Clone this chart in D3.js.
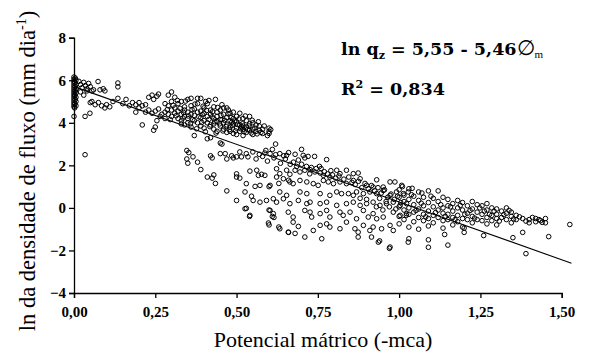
<!DOCTYPE html>
<html>
<head>
<meta charset="utf-8">
<style>
  body { margin: 0; background: #fff; }
  svg text { font-family: "Liberation Serif", "Times New Roman", serif; }
  svg text.eq { font-family: "DejaVu Serif", serif; }
</style>
</head>
<body>
<svg width="594" height="354"></svg>
<script src="https://cdn.jsdelivr.net/npm/d3@7"></script>
<script>

// Tick labels
var xTicks = [0, 0.25, 0.5, 0.75, 1.0, 1.25, 1.5];
var yTicks = [-4, -2, 0, 2, 4, 6, 8];

// Fitted line as drawn (end points)
var lineX = [0, 1.53];
var lineY = [5.7, -2.6];

// Observations: [potencial matrico, ln q]
// stack at saturation
var pointsZero = [
  [0,6.15],[0.004,6.1],[0,6.05],[0.006,6.0],[0,5.95],[0.003,5.9],[0,5.85],[0.006,5.8],
  [0,5.75],[0.004,5.7],[0,5.65],[0.007,5.6],[0,5.55],[0.004,5.5],[0,5.45],[0.006,5.4],
  [0,5.35],[0.003,5.3],[0,5.25],[0.006,5.2],[0,5.15],[0.004,5.1],[0,5.05],[0.006,5.0],
  [0,4.95],[0.003,4.9],[0,4.85],[0.006,4.8],[0,4.75],[0.002,4.7],[0,4.3]
];

// near-saturated points up to 0.28
var pointsWet = [
  [0.015,5.95],[0.02,5.8],[0.025,5.65],[0.03,5.9],[0.035,5.75],[0.04,5.6],[0.045,5.85],
  [0.05,5.7],[0.02,5.45],[0.03,5.3],[0.04,5.5],[0.055,5.5],[0.06,5.55],[0.074,5.94],
  [0.08,5.55],[0.09,5.6],[0.095,5.5],[0.135,5.87],[0.135,5.69],[0.05,4.95],[0.055,5.0],
  [0.065,4.85],[0.075,4.95],[0.085,4.8],[0.095,4.7],[0.1,4.85],[0.11,4.75],[0.034,4.3],
  [0.049,4.45],[0.12,5.0],[0.135,5.15],[0.15,4.9],[0.16,5.1],[0.17,4.8],[0.18,4.95],
  [0.19,4.85],[0.2,4.95],[0.21,4.8],[0.2,4.7],[0.22,4.85],[0.19,4.5],[0.22,4.5],
  [0.21,3.9],[0.23,5.2],[0.24,5.3],[0.245,5.1],[0.255,5.25],[0.26,5.35],[0.245,3.65],
  [0.25,3.8],[0.255,4.1],[0.23,4.6],[0.24,4.45],[0.25,4.55],[0.26,4.65],[0.27,4.4],
  [0.265,4.3],[0.034,2.5]
];

// dense cluster 0.28 - 0.62
var pointsCluster = [
  [0.28,4.9],[0.28,4.5],[0.28,4.2],[0.29,5.3],[0.29,4.8],[0.29,4.4],
  [0.30,5.45],[0.30,5.0],[0.30,4.6],[0.30,4.3],[0.31,5.2],[0.31,4.7],[0.31,4.45],
  [0.32,4.9],[0.32,4.55],[0.32,4.2],[0.33,5.0],[0.33,4.4],[0.33,4.1],[0.33,3.95],
  [0.34,4.75],[0.34,4.6],[0.34,4.3],[0.34,3.9],[0.35,5.1],[0.35,4.5],[0.35,4.2],[0.35,4.0],
  [0.36,5.15],[0.36,4.8],[0.36,4.4],[0.36,3.8],[0.37,4.65],[0.37,4.35],[0.37,4.1],[0.37,3.4],
  [0.38,5.15],[0.38,4.9],[0.38,4.5],[0.38,4.0],[0.39,5.15],[0.39,4.55],[0.39,4.25],[0.39,3.85],
  [0.40,4.7],[0.40,4.45],[0.40,4.1],[0.40,3.75],[0.41,4.9],[0.41,4.3],[0.41,4.0],[0.41,3.25],
  [0.42,4.6],[0.42,4.4],[0.42,3.9],[0.42,3.3],[0.43,4.75],[0.43,4.2],[0.43,3.95],[0.43,3.7],
  [0.44,4.5],[0.44,4.3],[0.44,4.05],[0.44,3.6],[0.45,4.6],[0.45,4.15],[0.45,3.85],[0.45,3.05],
  [0.455,3.0],[0.46,4.7],[0.46,4.4],[0.46,4.0],[0.46,3.7],[0.47,4.7],[0.47,4.25],[0.47,3.9],
  [0.47,3.55],[0.48,4.45],[0.48,4.1],[0.48,3.8],[0.48,3.6],[0.49,4.5],[0.49,4.2],[0.49,3.95],
  [0.49,3.5],[0.50,4.3],[0.50,4.05],[0.50,3.75],[0.50,3.45],[0.51,4.45],[0.51,3.9],[0.51,3.6],
  [0.52,4.2],[0.52,3.85],[0.52,3.7],[0.52,3.4],[0.53,4.1],[0.53,3.8],[0.53,3.55],
  [0.54,4.3],[0.54,3.95],[0.54,3.65],[0.55,4.0],[0.55,3.7],[0.55,3.45],[0.56,3.9],[0.56,3.6],
  [0.57,3.85],[0.57,3.65],[0.58,3.7],[0.58,3.5],[0.60,3.75],[0.60,3.6],[0.60,3.5],[0.62,3.0],
  [0.287,4.62],[0.296,4.15],[0.305,4.82],[0.314,4.33],[0.318,5.05],[0.326,4.68],[0.337,4.48],
  [0.343,5.02],[0.352,4.32],[0.358,3.95],[0.363,4.62],[0.372,4.88],[0.377,3.72],[0.384,4.28],
  [0.393,4.02],[0.397,4.78],[0.404,3.58],[0.408,4.58],[0.415,4.16],[0.418,3.82],[0.426,4.52],
  [0.433,4.05],[0.437,3.52],[0.442,4.72],[0.448,3.95],[0.452,4.35],[0.458,3.62],[0.463,4.12],
  [0.468,3.82],[0.474,4.42],[0.478,3.68],[0.483,4.25],[0.487,3.88],[0.494,4.08],[0.497,3.62],
  [0.503,3.92],[0.507,4.18],[0.513,3.72],[0.518,3.95],[0.523,3.58],[0.527,4.32],[0.534,3.68],
  [0.538,3.85],[0.545,3.52],[0.548,4.12],[0.556,3.75],[0.563,3.48],[0.567,4.05],[0.575,3.55],
  [0.585,3.85],[0.595,3.4],[0.605,3.68],[0.335,4.22],[0.365,4.15],[0.395,4.38],[0.425,4.28],
  [0.455,4.15],[0.485,4.02],[0.515,3.82],[0.405,5.0],[0.415,5.05],[0.435,5.1],[0.455,4.85],
  [0.475,4.6]
];

// scattered branch and band 0.35 - 1.03
var pointsMiddle = [
  [0.347,2.7],[0.353,2.6],[0.347,2.3],[0.35,2.1],[0.366,2.4],[0.38,2.15],[0.39,1.8],
  [0.41,1.45],[0.425,1.4],[0.43,1.55],[0.435,1.15],[0.42,2.45],[0.425,2.35],[0.45,2.55],
  [0.465,2.55],[0.47,2.3],[0.485,2.45],[0.49,2.35],[0.5,2.4],[0.515,2.4],[0.47,0.8],
  [0.5,1.45],[0.51,1.4],[0.5,1.6],[0.5,0.35],[0.53,-0.02],[0.54,-0.4],
  [0.51,2.63],[0.53,2.55],[0.55,2.63],[0.57,2.52],[0.587,2.58],[0.603,2.55],[0.633,2.55],
  [0.654,2.47],[0.68,2.52],[0.705,2.47],[0.72,2.42],[0.74,2.42],[0.777,2.27],[0.535,2.4],
  [0.59,2.7],[0.61,2.75],[0.62,2.5],[0.645,2.45],[0.66,2.6],[0.7,2.75],[0.69,2.25],[0.71,2.35],
  [0.541,1.73],[0.562,1.77],[0.567,1.53],[0.577,1.58],[0.587,1.53],[0.623,1.84],[0.633,1.61],
  [0.654,1.77],[0.664,1.58],[0.68,1.77],[0.695,1.69],[0.71,1.77],[0.726,1.8],[0.741,1.69],
  [0.757,1.64],[0.767,1.53],[0.787,1.45],[0.808,1.77],[0.818,1.61],[0.838,1.77],[0.859,1.61],
  [0.874,1.64],[0.73,1.9],[0.76,1.85],[0.79,1.75],
  [0.53,1.14],[0.557,1.01],[0.572,1.06],[0.603,1.06],[0.623,1.45],[0.644,1.37],[0.664,1.22],
  [0.674,1.14],[0.695,1.29],[0.716,1.22],[0.736,1.14],[0.751,1.06],[0.767,1.29],[0.782,1.22],
  [0.798,1.14],[0.818,1.22],[0.838,1.14],[0.859,1.29],[0.88,1.37],[0.9,1.06],[0.92,0.98],
  [0.931,1.32],[0.951,0.98],[0.972,1.22],[0.987,1.22],[1.008,1.06],
  [0.526,0.75],[0.633,0.75],[0.654,0.59],[0.695,0.75],[0.716,0.67],[0.757,0.67],[0.787,0.59],
  [0.808,0.75],[0.823,0.67],[0.844,0.67],[0.859,0.59],[0.869,0.75],[0.89,0.67],[0.91,0.75],
  [0.931,0.67],[0.951,0.82],[0.972,0.59],[0.992,0.75],[1.013,0.67],[1.028,0.75],
  [0.546,0.55],[0.572,0.27],[0.592,0.35],[0.551,0.35],[0.613,0.43],[0.623,0.27],[0.644,0.43],
  [0.664,0.2],[0.69,0.35],[0.716,0.2],[0.726,0.27],[0.757,0.2],[0.777,0.27],[0.808,0.12],
  [0.838,0.2],[0.859,0.27],[0.88,0.12],[0.9,0.2],[0.92,0.27],[0.941,0.12],[0.961,0.2],
  [0.982,0.27],[1.003,0.12],[1.023,0.2],
  [0.526,-0.04],[0.541,-0.35],[0.603,-0.12],[0.613,-0.27],[0.659,-0.2],[0.674,-0.43],
  [0.71,-0.12],[0.726,-0.2],[0.731,-0.43],[0.757,-0.27],[0.777,-0.12],[0.787,-0.43],
  [0.818,-0.2],[0.828,-0.35],[0.849,-0.2],[0.869,-0.51],[0.89,-0.12],[0.905,-0.43],
  [0.92,-0.27],[0.931,-0.51],[0.951,-0.43],[0.982,-0.2],[1.003,-0.35],[1.023,-0.27],
  [0.598,-0.71],[0.633,-0.98],[0.659,-1.14],[0.674,-0.67],[0.69,-0.87],[0.736,-1.06],
  [0.757,-0.82],[0.777,-0.75],[0.787,-0.9],[0.818,-0.98],[0.838,-0.67],[0.864,-0.98],
  [0.874,-1.14],[0.89,-0.82],[0.91,-1.06],[0.92,-0.9],[0.946,-0.98],[0.972,-0.82],[0.982,-1.06],
  [0.71,-1.37],[0.762,-1.45],[0.874,-1.37],[0.915,-1.37],[0.936,-1.61],[0.972,-1.84],[1.028,-1.61],
  [0.6,1.0],[0.63,1.15],[0.66,1.3],[0.6,-0.1],[0.61,-0.4],[0.615,-0.45],[0.6,-0.8],
  [0.63,-0.9],[0.66,-1.15],[0.68,-1.2],
  [0.56,2.3],[0.58,2.42],[0.595,2.2],[0.615,2.35],[0.635,2.1],[0.65,2.3],[0.665,2.05],
  [0.675,2.15],[0.685,1.95],[0.7,2.05],[0.715,1.95],[0.725,1.6],[0.745,1.85],[0.755,1.95],
  [0.77,1.7],[0.78,1.6],[0.795,1.55],[0.805,1.4],[0.815,1.5],[0.83,1.35],[0.845,1.45],
  [0.855,1.2],[0.865,1.1],[0.875,1.25],[0.885,0.95],[0.895,1.15],[0.905,0.9],[0.915,1.05],
  [0.925,0.8],[0.935,0.95],[0.945,0.7],[0.955,0.85],[0.965,0.5],[0.975,0.65],[0.985,0.4],
  [0.995,0.55],[0.94,0.45],[0.96,0.3],[0.97,0.05],[0.99,-0.05],[0.88,0.45],[0.9,0.4],
  [0.93,0.05],[0.95,-0.1]
];

// dry end 1.0 - 1.53
var pointsDry = [
  [1.00,0.85],[1.00,0.5],[1.00,0.05],[1.00,-0.4],[1.00,-0.75],[1.015,0.6],[1.015,0.3],
  [1.015,-0.1],[1.015,-0.55],[1.03,0.9],[1.03,0.4],[1.03,0.0],[1.03,-0.3],[1.03,-0.9],
  [1.045,0.55],[1.045,0.15],[1.045,-0.2],[1.045,-0.65],[1.06,0.75],[1.06,0.35],[1.06,-0.05],
  [1.06,-0.45],[1.06,-1.0],[1.075,0.5],[1.075,0.1],[1.075,-0.3],[1.075,-0.6],[1.09,0.8],
  [1.09,0.25],[1.09,-0.15],[1.09,-0.5],[1.09,-0.85],[1.105,0.45],[1.105,0.05],[1.105,-0.35],
  [1.105,-0.7],[1.12,0.8],[1.12,0.3],[1.12,-0.1],[1.12,-0.45],[1.135,0.5],[1.135,0.0],
  [1.135,-0.25],[1.135,-0.6],[1.135,-0.95],[1.15,0.4],[1.15,0.1],[1.15,-0.3],[1.15,-0.55],
  [1.165,0.2],[1.165,-0.15],[1.165,-0.45],[1.165,-0.8],[1.18,0.35],[1.18,0.0],[1.18,-0.35],
  [1.18,-0.65],[1.195,0.25],[1.195,-0.1],[1.195,-0.5],[1.195,-0.9],[1.21,0.1],[1.21,-0.25],
  [1.21,-0.55],[1.225,0.3],[1.225,-0.05],[1.225,-0.4],[1.225,-0.7],[1.24,0.15],[1.24,-0.2],
  [1.24,-0.55],[1.255,0.1],[1.255,-0.3],[1.255,-0.6],[1.27,0.2],[1.27,-0.1],[1.27,-0.45],
  [1.27,-0.75],[1.285,0.0],[1.285,-0.35],[1.285,-0.6],[1.30,-0.05],[1.30,-0.3],[1.30,-0.5],
  [1.30,-0.8],[1.315,-0.15],[1.315,-0.45],[1.33,0.0],[1.33,-0.25],[1.33,-0.55],[1.345,-0.2],
  [1.345,-0.4],[1.345,-0.7],[1.36,-0.35],[1.36,-0.55],[1.38,-0.5],[1.38,-1.15],[1.40,-0.55],
  [1.40,-0.7],[1.42,-0.5],[1.42,-0.65],[1.435,-0.6],[1.45,-0.5],[1.45,-0.7],[1.46,-1.35],
  [1.525,-0.78],[1.39,-2.15],[1.35,-1.4],[1.26,-1.3],[1.2,-0.95],[1.2,-1.15],[1.14,-1.25],
  [1.15,-1.75],[1.09,-1.5],[1.09,-1.85],[1.03,-1.45],[0.97,-1.9],[0.94,-1.55],[1.04,0.92],
  [1.07,0.7],[1.01,1.0],
  [1.005,0.25],[1.022,-0.35],[1.038,0.62],[1.052,-0.12],[1.068,0.22],[1.082,-0.42],
  [1.098,0.55],[1.112,-0.22],[1.128,0.15],[1.142,-0.4],[1.158,0.05],[1.172,-0.55],
  [1.188,0.12],[1.202,-0.3],[1.218,-0.12],[1.232,-0.48],[1.248,0.0],[1.262,-0.15],
  [1.278,-0.3],[1.292,-0.15],[1.308,-0.62],[1.322,-0.32],[1.338,-0.12],[1.352,-0.52],
  [1.37,-0.42],[1.39,-0.62],[1.41,-0.45],[1.43,-0.55],[1.44,-0.68]
];

var svg = d3.select("svg");

var x = d3.scaleLinear().domain([0, 1.5]).range([74, 561.7]);
var y = d3.scaleLinear().domain([-4, 8]).range([293, 37.7]);

var fmt = function(d) { return d3.format(".2f")(d).replace(".", ","); };

// x axis
var gx = svg.append("g")
    .attr("transform", "translate(0," + y(-4) + ")")
    .call(d3.axisBottom(x).tickValues(xTicks).tickSize(5).tickPadding(8).tickFormat(fmt));

// y axis
var gy = svg.append("g")
    .attr("transform", "translate(" + x(0) + ",0)")
    .call(d3.axisLeft(y).tickValues(yTicks).tickSize(5).tickPadding(3).tickFormat(d3.format("d")));

svg.selectAll(".tick text")
    .attr("font-size", 15).attr("font-weight", "bold").attr("fill", "#000")
    .style("font-family", "'Liberation Serif', serif");
svg.selectAll(".domain, .tick line").attr("stroke", "#000").attr("stroke-width", 1.3);

// points
var allPoints = pointsZero.concat(pointsWet, pointsCluster, pointsMiddle, pointsDry);
svg.append("g").selectAll("circle")
  .data(allPoints)
  .enter().append("circle")
    .attr("cx", function(d) { return x(d[0]); })
    .attr("cy", function(d) { return y(d[1]); })
    .attr("r", 2.3)
    .attr("fill", "none")
    .attr("stroke", "#000")
    .attr("stroke-width", 1);

// fitted line
svg.append("line")
    .attr("x1", x(lineX[0])).attr("y1", y(lineY[0]))
    .attr("x2", x(lineX[1])).attr("y2", y(lineY[1]))
    .attr("stroke", "#000").attr("stroke-width", 1.1);

// equation
var eq = svg.append("text").attr("class", "eq").attr("x", 341).attr("y", 55)
    .attr("font-size", 17.5).attr("font-weight", "bold");
eq.append("tspan").text("ln q");
eq.append("tspan").attr("font-size", 11).attr("dy", 4).text("z");
eq.append("tspan").attr("dy", -4).text(" = 5,55 - 5,46");
eq.append("tspan").attr("font-weight", "normal").attr("font-size", 21).text("\u2205");
eq.append("tspan").attr("font-weight", "normal").attr("font-size", 11).attr("dy", 3)
    .style("font-family", "'Liberation Serif', serif").text("m");

var r2 = svg.append("text").attr("class", "eq").attr("x", 341).attr("y", 95)
    .attr("font-size", 17.5).attr("font-weight", "bold");
r2.append("tspan").text("R");
r2.append("tspan").attr("font-size", 11).attr("dy", -7).text("2");
r2.append("tspan").attr("dy", 7).text(" = 0,834");

// axis titles
svg.append("text")
    .attr("x", 323).attr("y", 347)
    .attr("text-anchor", "middle").attr("font-size", 22)
    .text("Potencial mátrico (-mca)");

var yt = svg.append("text")
    .attr("transform", "translate(35,171) rotate(-90)")
    .attr("text-anchor", "middle").attr("font-size", 22.5);
yt.append("tspan").text("ln da densidade de fluxo (mm dia");
yt.append("tspan").attr("font-size", 14).attr("dy", -9).text("-1");
yt.append("tspan").attr("dy", 9).text(")");

</script>
</body>
</html>
